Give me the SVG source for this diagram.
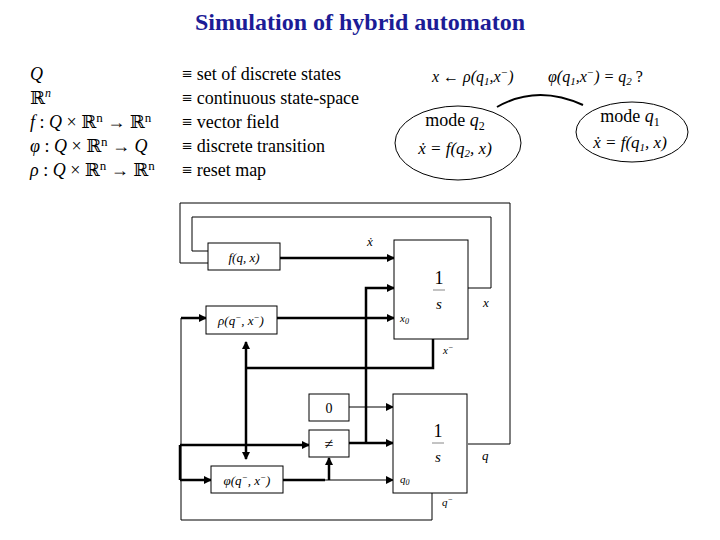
<svg xmlns="http://www.w3.org/2000/svg" width="720" height="540" viewBox="0 0 720 540">
<defs><marker id="a" markerWidth="8" markerHeight="8" refX="7" refY="4" orient="auto" markerUnits="userSpaceOnUse"><path d="M0,0L8,4L0,8z" fill="#000"/></marker>
<marker id="b" markerWidth="8" markerHeight="8" refX="1" refY="4" orient="auto" markerUnits="userSpaceOnUse"><path d="M8,0L0,4L8,8z" fill="#000"/></marker></defs>
<style>
text{font-family:"Liberation Serif","DejaVu Serif",serif;fill:#000}
.m{font-style:italic;font-size:13px}
rect{fill:#fff;stroke:#000;stroke-width:1}
.l{fill:none;stroke:#000;stroke-width:1}
.k{fill:none;stroke:#000;stroke-width:2.5}
</style>
<rect width="720" height="540" style="stroke:none"/>
<text x="360" y="30" text-anchor="middle" style="font-size:24px;font-weight:bold;fill:#1c1c96">Simulation of hybrid automaton</text>
<g font-family="Liberation Serif, DejaVu Serif, serif" font-size="18">
<text x="30" y="80" font-style="italic">Q</text>
<text x="30" y="104">ℝ<tspan font-style="italic" font-size="12" dy="-7">n</tspan></text>
<text x="30" y="128"><tspan font-style="italic">f</tspan> : <tspan font-style="italic">Q</tspan> × ℝ<tspan font-size="13" dy="-6">n</tspan><tspan dy="6"> → ℝ</tspan><tspan font-size="13" dy="-6">n</tspan></text>
<text x="30" y="152"><tspan font-style="italic">φ</tspan> : <tspan font-style="italic">Q</tspan> × ℝ<tspan font-size="13" dy="-6">n</tspan><tspan dy="6"> → </tspan><tspan font-style="italic">Q</tspan></text>
<text x="30" y="176"><tspan font-style="italic">ρ</tspan> : <tspan font-style="italic">Q</tspan> × ℝ<tspan font-size="13" dy="-6">n</tspan><tspan dy="6"> → ℝ</tspan><tspan font-size="13" dy="-6">n</tspan></text>
<text x="182" y="80">≡ set of discrete states</text>
<text x="182" y="104">≡ continuous state-space</text>
<text x="182" y="128">≡ vector field</text>
<text x="182" y="152">≡ discrete transition</text>
<text x="182" y="176">≡ reset map</text>
</g>
<text x="432" y="82" style="font-size:16px;font-style:italic">x ← ρ(q<tspan font-size="11" dy="3">1</tspan><tspan dy="-3">,x</tspan><tspan font-size="11" dy="-6">−</tspan><tspan dy="6">)</tspan></text>
<text x="548" y="82" style="font-size:16px;font-style:italic">φ(q<tspan font-size="11" dy="3">1</tspan><tspan dy="-3">,x</tspan><tspan font-size="11" dy="-6">−</tspan><tspan dy="6">) = q</tspan><tspan font-size="11" dy="3">2</tspan><tspan dy="-3" font-style="normal"> ?</tspan></text>
<g id="conn-top"><path class="k" d="M497,107 Q537,84 583,105" style="stroke-width:2"/></g>
<g id="mode2"><ellipse cx="458" cy="143" rx="63" ry="37" class="l"/>
<text x="455" y="126" text-anchor="middle" style="font-size:18px">mode <tspan font-style="italic">q</tspan><tspan font-size="12" dy="4">2</tspan></text>
<text x="455" y="154" text-anchor="middle" style="font-size:17px;font-style:italic">ẋ = f(q<tspan font-size="11" dy="3">2</tspan><tspan dy="-3">, x)</tspan></text></g>
<g id="mode1"><ellipse cx="632" cy="132" rx="56" ry="30" class="l"/>
<text x="630" y="122" text-anchor="middle" style="font-size:18px">mode <tspan font-style="italic">q</tspan><tspan font-size="12" dy="4">1</tspan></text>
<text x="630" y="148" text-anchor="middle" style="font-size:17px;font-style:italic">ẋ = f(q<tspan font-size="11" dy="3">1</tspan><tspan dy="-3">, x)</tspan></text></g>

<g id="connectors">
<path class="l" d="M468,444H510V203H180V263H208"/>
<path class="l" d="M468,288H491V217H192V251H208"/>
<path class="k" d="M280,258H394" marker-end="url(#a)"/>
<path class="k" d="M277,318H394" marker-end="url(#a)"/>
<path class="k" d="M433,339V368H247"/>
<path class="k" d="M246,342V459" marker-start="url(#b)" marker-end="url(#a)"/>
<path class="l" d="M349,407H393" marker-end="url(#a)"/>
<path class="k" d="M349,443H393" marker-end="url(#a)"/>
<path class="k" d="M366,443V288H394" marker-end="url(#a)"/>
<path class="k" d="M180,445H309" marker-end="url(#a)"/>
<path class="k" d="M180,480H211" marker-end="url(#a)"/>
<path class="k" d="M180,445V480"/>
<path class="k" d="M283,480H325"/>
<path class="l" d="M325,480H393" marker-end="url(#a)"/>
<path class="k" d="M329,480V458" marker-end="url(#a)"/>
<path class="l" d="M432,493V520H181V318"/>
<path class="k" d="M181,318H206" marker-end="url(#a)"/>
<path class="l" d="M397,295H408V283H418"/><path class="l" d="M397,446H408V434H418"/>
<path class="l" d="M408,292V286M408,443V437"/>
</g>
<g id="f"><rect x="208" y="243" width="72" height="27"/><text x="244" y="262" text-anchor="middle" class="m">f(q, x)</text></g>
<g id="rho"><rect x="206" y="306" width="71" height="28"/><text x="241" y="325" text-anchor="middle" class="m">ρ(q<tspan font-size="9" dy="-5">−</tspan><tspan dy="5">, x</tspan><tspan font-size="9" dy="-5">−</tspan><tspan dy="5">)</tspan></text></g>
<g id="phi"><rect x="211" y="466" width="72" height="27"/><text x="247" y="485" text-anchor="middle" class="m">φ(q<tspan font-size="9" dy="-5">−</tspan><tspan dy="5">, x</tspan><tspan font-size="9" dy="-5">−</tspan><tspan dy="5">)</tspan></text></g>
<g id="zero"><rect x="309" y="394" width="40" height="27"/><text x="329" y="413" text-anchor="middle" style="font-size:14px">0</text></g>
<g id="neq"><rect x="309" y="430" width="40" height="27"/><text x="329" y="449" text-anchor="middle" style="font-size:16px">≠</text></g>
<g id="int1"><rect x="394" y="240" width="74" height="99"/>
<text x="439" y="284" text-anchor="middle" style="font-size:18px">1</text><path class="l" d="M433,290H445" style="stroke:#888"/><text x="439" y="309" text-anchor="middle" style="font-size:15px;font-style:italic">s</text>
<text x="400" y="322" class="m" style="font-size:11px">x<tspan font-size="8" dy="2">0</tspan></text></g>
<g id="int2"><rect x="393" y="394" width="74" height="99"/>
<text x="438" y="437" text-anchor="middle" style="font-size:18px">1</text><path class="l" d="M432,443H444" style="stroke:#888"/><text x="438" y="462" text-anchor="middle" style="font-size:15px;font-style:italic">s</text>
<text x="400" y="483" class="m" style="font-size:11px">q<tspan font-size="8" dy="2">0</tspan></text></g>
<text x="367" y="246" class="m">ẋ</text>
<text x="483" y="307" class="m">x</text>
<text x="443" y="354" class="m" style="font-size:11px">x<tspan font-size="8" dy="-4">−</tspan></text>
<text x="482" y="460" class="m">q</text>
<text x="442" y="506" class="m" style="font-size:11px">q<tspan font-size="8" dy="-4">−</tspan></text>
</svg>
